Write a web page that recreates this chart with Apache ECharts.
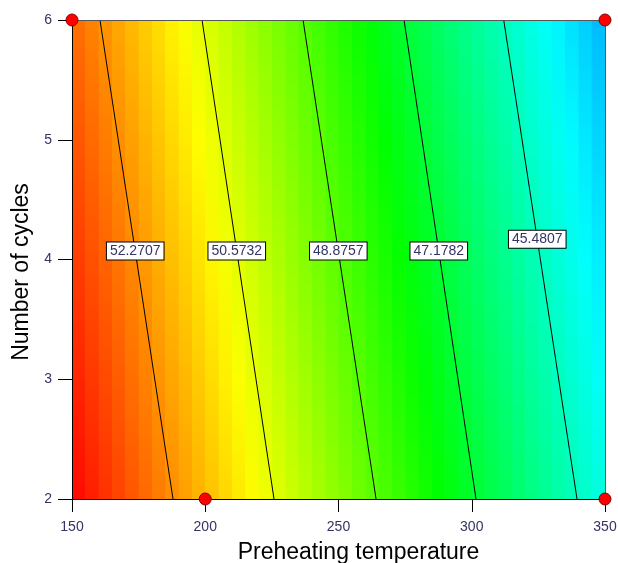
<!DOCTYPE html>
<html>
<head>
<meta charset="utf-8">
<script src="https://cdn.jsdelivr.net/npm/echarts@6/dist/echarts.min.js"></script>
<style>
html, body { margin: 0; padding: 0; background: #fff; }
#main { width: 618px; height: 563px; }
</style>
</head>
<body>
<div id="main"></div>
<script>
// 色带列的边界 (Preheating temperature)
var tempEdges = [150, 155, 160, 165, 170, 175, 180, 185, 190, 195,
	200, 205, 210, 215, 220, 225, 230, 235, 240, 245,
	250, 255, 260, 265, 270, 275, 280, 285, 290, 295,
	300, 305, 310, 315, 320, 325, 330, 335, 340, 345, 350];
// 每列在 2 cycles 处的响应值
var valueAtBottom = [53.86, 53.63, 53.41, 53.19, 52.96, 52.74, 52.51, 52.29, 52.07, 51.84,
	51.62, 51.39, 51.17, 50.95, 50.72, 50.50, 50.27, 50.05, 49.83, 49.60,
	49.38, 49.15, 48.93, 48.71, 48.48, 48.26, 48.03, 47.81, 47.59, 47.36,
	47.14, 46.91, 46.69, 46.47, 46.24, 46.02, 45.79, 45.57, 45.35, 45.12];
// 每列在 6 cycles 处的响应值
var valueAtTop = [52.63, 52.41, 52.18, 51.96, 51.73, 51.51, 51.29, 51.06, 50.84, 50.61,
	50.39, 50.17, 49.94, 49.72, 49.49, 49.27, 49.05, 48.82, 48.60, 48.37,
	48.15, 47.93, 47.70, 47.48, 47.25, 47.03, 46.81, 46.58, 46.36, 46.13,
	45.91, 45.69, 45.46, 45.24, 45.01, 44.79, 44.57, 44.34, 44.12, 43.89];
// 等值线
var contourLevels = [52.2707, 50.5732, 48.8757, 47.1782, 45.4807];
var contourXAtBottom = [187.9, 225.8, 264.1, 301.6, 339.5];
var contourXAtTop = [160.5, 198.8, 236.7, 274.6, 312.0];
var contourLabelY = [4.07, 4.07, 4.07, 4.07, 4.17];
// 设计点
var designPoints = [[150, 6], [350, 6], [200, 2], [350, 2]];

var colorStops = [
	[41.6, [0, 0, 255]],
	[44.7, [0, 255, 255]],
	[47.8, [0, 255, 0]],
	[50.9, [255, 255, 0]],
	[54.0, [255, 0, 0]]
];
function valueColor(v) {
	if (v <= colorStops[0][0]) return 'rgb(' + colorStops[0][1].join(',') + ')';
	for (var i = 1; i < colorStops.length; i++) {
		if (v <= colorStops[i][0]) {
			var a = colorStops[i - 1], b = colorStops[i];
			var t = (v - a[0]) / (b[0] - a[0]);
			var c = [0, 1, 2].map(function (k) {
				return Math.round(a[1][k] + (b[1][k] - a[1][k]) * t);
			});
			return 'rgb(' + c.join(',') + ')';
		}
	}
	return 'rgb(' + colorStops[colorStops.length - 1][1].join(',') + ')';
}

var cells = [];
for (var i = 0; i < valueAtBottom.length; i++) {
	cells.push([tempEdges[i], tempEdges[i + 1], valueAtBottom[i], valueAtTop[i]]);
}

var contourSeries = [];
var labelData = [];
for (var j = 0; j < contourLevels.length; j++) {
	contourSeries.push({
		type : 'line',
		data : [[contourXAtBottom[j], 2], [contourXAtTop[j], 6]],
		symbol : 'none',
		silent : true,
		z : 4,
		lineStyle : { color : '#000', width : 1 }
	});
	var f = (contourLabelY[j] - 2) / 4;
	labelData.push({
		value : [contourXAtBottom[j] + (contourXAtTop[j] - contourXAtBottom[j]) * f, contourLabelY[j]],
		level : contourLevels[j]
	});
}

var labelStyle = { color : '#333366', fontSize : 14, fontFamily : 'Liberation Sans, Arial' };

var option = {
	animation : false,
	grid : { left : 72, right : 13, top : 20, bottom : 64, outerBoundsMode : 'none', containLabel : false },
	xAxis : [ {
		type : 'value',
		min : 150,
		max : 350,
		interval : 50,
		z : 6,
		name : 'Preheating temperature',
		nameLocation : 'middle',
		nameGap : 42,
		nameTextStyle : { color : '#000', fontSize : 23, fontFamily : 'Liberation Sans, Arial', padding : [0, 0, 0, 40] },
		axisLine : { lineStyle : { color : '#000', width : 1 } },
		axisTick : { length : 13, lineStyle : { color : '#000' } },
		axisLabel : Object.assign({ margin : 21 }, labelStyle),
		splitLine : { show : false }
	}, {
		type : 'value',
		position : 'top',
		min : 150,
		max : 350,
		z : 6,
		axisLine : { onZero : false, lineStyle : { color : '#555', width : 1 } },
		axisTick : { show : false },
		axisLabel : { show : false },
		splitLine : { show : false }
	} ],
	yAxis : [ {
		type : 'value',
		min : 2,
		max : 6,
		interval : 1,
		z : 6,
		name : 'Number of cycles',
		nameLocation : 'middle',
		nameGap : 36,
		nameTextStyle : { color : '#000', fontSize : 23, fontFamily : 'Liberation Sans, Arial', padding : [0, 25, 0, 0] },
		axisLine : { show : true, lineStyle : { color : '#000', width : 1 } },
		axisTick : { show : true, length : 14, lineStyle : { color : '#000' } },
		axisLabel : Object.assign({ margin : 20 }, labelStyle),
		splitLine : { show : false }
	}, {
		type : 'value',
		position : 'right',
		min : 2,
		max : 6,
		z : 6,
		axisLine : { show : true, onZero : false, lineStyle : { color : '#555', width : 1 } },
		axisTick : { show : false },
		axisLabel : { show : false },
		splitLine : { show : false }
	} ],
	series : [ {
		type : 'custom',
		data : cells,
		silent : true,
		z : 1,
		clip : true,
		renderItem : function (params, api) {
			var p0 = api.coord([api.value(0), 6]);
			var p1 = api.coord([api.value(1), 2]);
			var vb = api.value(2), vt = api.value(3);
			var stops = [];
			for (var k = 0; k <= 4; k++) {
				var t = k / 4;
				stops.push({ offset : t, color : valueColor(vt + (vb - vt) * t) });
			}
			return {
				type : 'rect',
				shape : { x : p0[0], y : p0[1], width : p1[0] - p0[0] + 0.6, height : p1[1] - p0[1] },
				style : { fill : new echarts.graphic.LinearGradient(0, 0, 0, 1, stops) }
			};
		}
	} ].concat(contourSeries).concat([ {
		type : 'scatter',
		data : labelData,
		symbolSize : 1,
		silent : true,
		z : 5,
		itemStyle : { opacity : 1, color : 'transparent' },
		label : {
			show : true,
			position : 'inside',
			formatter : function (p) { return p.data.level.toFixed(4); },
			color : '#333366',
			opacity : 1,
			fontSize : 14,
			fontFamily : 'Liberation Sans, Arial',
			backgroundColor : '#ffffff',
			borderColor : '#000',
			borderWidth : 1,
			padding : [2, 3, 1, 3]
		}
	}, {
		type : 'scatter',
		data : designPoints,
		symbol : 'circle',
		symbolSize : 12,
		clip : false,
		z : 10,
		itemStyle : { opacity : 1, color : '#ff0000', borderColor : '#8a0000', borderWidth : 1 }
	} ])
};

var chart = echarts.init(document.getElementById('main'));
chart.setOption(option);
</script>
</body>
</html>
